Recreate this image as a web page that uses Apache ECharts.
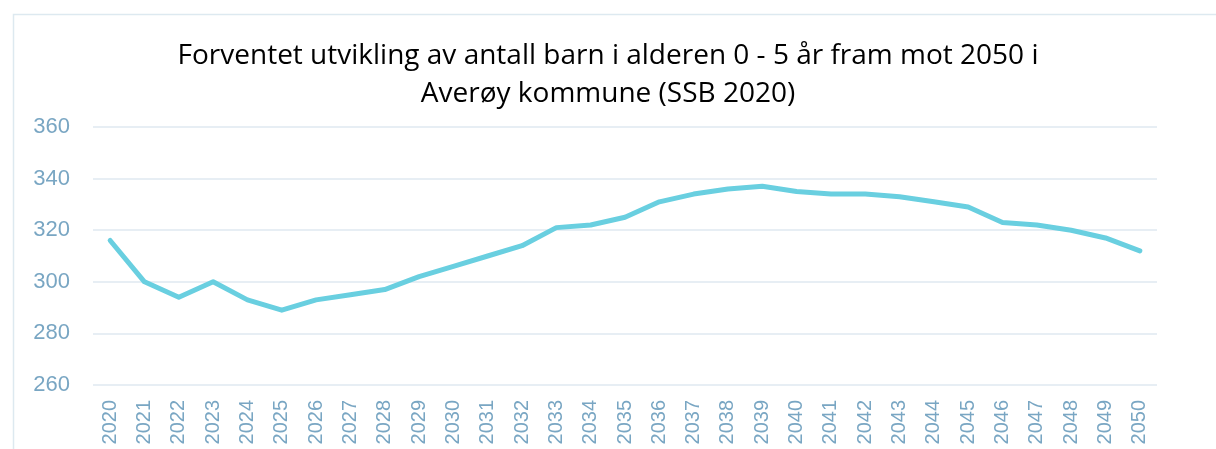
<!DOCTYPE html>
<html>
<head>
<meta charset="utf-8">
<script src="https://cdn.jsdelivr.net/npm/echarts@6/dist/echarts.min.js"></script>
<style>
html,body{margin:0;padding:0;background:#fff;}
#c{width:1216px;height:449px;}
</style>
</head>
<body>
<div id="c"></div>
<script>
const titleText = 'Forventet utvikling av antall barn i alderen 0 - 5 år fram mot 2050 i\nAverøy kommune (SSB 2020)';
const years = ['2020','2021','2022','2023','2024','2025','2026','2027','2028','2029','2030','2031','2032','2033','2034','2035','2036','2037','2038','2039','2040','2041','2042','2043','2044','2045','2046','2047','2048','2049','2050'];
const children = [316,300,294,300,293,289,293,295,297,302,306,310,314,321,322,325,331,334,336,337,335,334,334,333,331,329,323,322,320,317,312];
const yMin = 260, yMax = 360, yStep = 20;

const chart = echarts.init(document.getElementById('c'), null, {renderer:'canvas'});
chart.setOption({
  backgroundColor:'#fff',
  animation:false,
  graphic:[{
    type:'rect', left:11, top:12, shape:{x:0,y:0,width:1300,height:500},
    style:{fill:'none', stroke:'#dde9f0', lineWidth:1.5}, silent:true, z:-1
  }],
  title:{
    text:titleText, left:'center', top:32,
    textStyle:{fontFamily:'Open Sans', fontSize:28, fontWeight:'normal', color:'#000', lineHeight:38}
  },
  grid:{left:93, right:59, top:127, bottom:64, containLabel:false},
  xAxis:{
    type:'category', data:years, boundaryGap:true,
    axisLine:{show:false}, axisTick:{show:false},
    axisLabel:{rotate:90, interval:0, margin:15, color:'#79A6C3', fontFamily:'Liberation Sans', fontSize:20}
  },
  yAxis:{
    type:'value', min:yMin, max:yMax, interval:yStep,
    axisLine:{show:false}, axisTick:{show:false},
    axisLabel:{margin:23, color:'#79A6C3', fontFamily:'Liberation Sans', fontSize:22},
    splitLine:{lineStyle:{color:'#dfe8f0', width:1.5}}
  },
  series:[{
    type:'line', data:children, showSymbol:false, symbol:'none',
    lineStyle:{color:'#69CFE0', width:5, cap:'round', join:'round'}
  }]
});
</script>
</body>
</html>
